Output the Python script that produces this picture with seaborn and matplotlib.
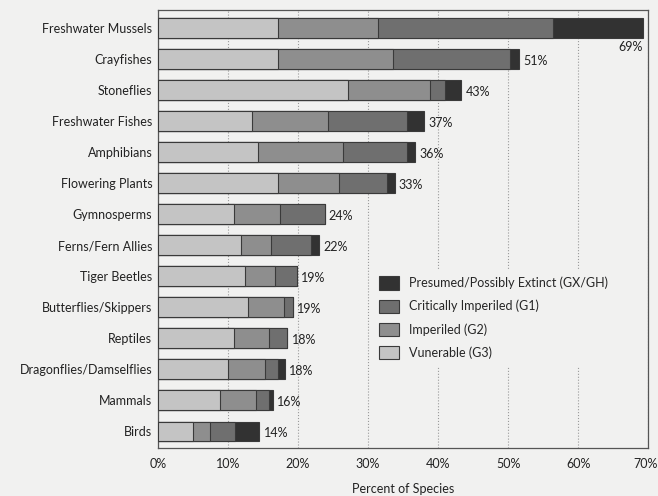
import numpy as np
import pandas as pd
import seaborn as sns
import matplotlib.pyplot as plt
from matplotlib.transforms import offset_copy

# Categorias e valores (% de espécies)
groups = ['Freshwater Mussels', 'Crayfishes', 'Stoneflies', 'Freshwater Fishes',
          'Amphibians', 'Flowering Plants', 'Gymnosperms', 'Ferns/Fern Allies',
          'Tiger Beetles', 'Butterflies/Skippers', 'Reptiles',
          'Dragonflies/Damselflies', 'Mammals', 'Birds']
g3 = [17.1, 17.2, 27.1, 13.4, 14.3, 17.1, 10.8, 11.8, 12.4, 12.9, 10.8, 10.0, 8.8, 5.0]
g2 = [14.3, 16.3, 11.8, 10.9, 12.2, 8.7, 6.7, 4.3, 4.3, 5.1, 5.1, 5.3, 5.2, 2.5]
g1 = [25.0, 16.8, 2.1, 11.3, 9.1, 6.9, 6.3, 5.8, 3.1, 1.3, 2.6, 1.9, 1.8, 3.5]
gx = [12.9, 1.3, 2.3, 2.4, 1.1, 1.1, 0.0, 1.1, 0.0, 0.0, 0.0, 0.9, 0.6, 3.5]
total_labels = ['69%', '51%', '43%', '37%', '36%', '33%', '24%', '22%',
                '19%', '19%', '18%', '18%', '16%', '14%']
x_ticks = [0, 10, 20, 30, 40, 50, 60, 70]

df = pd.DataFrame({'group': groups, 'G3': g3, 'G2': g2, 'G1': g1, 'GX': gx})
df['c_G3'] = df['G3']
df['c_G2'] = df['c_G3'] + df['G2']
df['c_G1'] = df['c_G2'] + df['G1']
df['c_GX'] = df['c_G1'] + df['GX']

bg = '#f1f1f0'
fs = 9
sns.set_theme(style='white')
plt.rcParams['font.family'] = ['Lato', 'DejaVu Sans']

fig = plt.figure(figsize=(6.58, 4.96), dpi=100, facecolor=bg)
ax = fig.add_axes([0.240, 0.097, 0.745, 0.883])
ax.set_facecolor(bg)

# Barras empilhadas: desenhar os acumulados do maior para o menor
layers = [
    ('c_GX', '#323232', 'Presumed/Possibly Extinct (GX/GH)'),
    ('c_G1', '#6f6f6f', 'Critically Imperiled (G1)'),
    ('c_G2', '#8e8e8e', 'Imperiled (G2)'),
    ('c_G3', '#c4c4c4', 'Vunerable (G3)'),
]
for col, color, lab in layers:
    sns.barplot(data=df, x=col, y='group', color=color, width=0.64,
                edgecolor='#3a3a3a', linewidth=0.8, label=lab, ax=ax, zorder=3)

# Rótulos de total
for i, (tot, txt) in enumerate(zip(df['c_GX'], total_labels)):
    if tot > 60:
        ax.text(tot, i + 0.62, txt, ha='right', va='center', fontsize=fs, color='#222222')
    else:
        ax.text(tot + 0.6, i + 0.05, txt, ha='left', va='center', fontsize=fs, color='#222222')

ax.set_xlim(0, 70)
ax.set_ylim(13.53, -0.58)
ax.set_xticks(x_ticks)
ax.set_xticklabels([f'{t}%' for t in x_ticks], fontsize=fs, color='#222222')
ax.tick_params(axis='both', length=0, pad=7)
ax.tick_params(axis='y', labelsize=fs, labelcolor='#222222', pad=4)
ax.set_ylabel('')
ax.set_xlabel('Percent of Species', fontsize=fs, color='#222222', labelpad=10)
ax.xaxis.grid(True, color='#9a9a9a', linestyle=':', linewidth=0.8, zorder=0)
ax.set_axisbelow(True)
for s in ax.spines.values():
    s.set_color('#555555')
    s.set_linewidth(0.9)

# o rótulo de 70% fica colado na borda: puxar um pouco para a esquerda
last = ax.get_xticklabels()[-1]
last.set_transform(offset_copy(last.get_transform(), fig=fig, x=-3, units='dots'))

leg = ax.legend(loc='upper left', bbox_to_anchor=(0.425, 0.42), frameon=True,
                facecolor=bg, edgecolor=bg, framealpha=1, fontsize=fs,
                handlelength=1.6, handleheight=1.25, labelspacing=0.8,
                handletextpad=0.8, borderpad=0.5)
for h in leg.get_patches():
    h.set_edgecolor('#3a3a3a')
leg.set_zorder(5)

fig.savefig('out.png', dpi=100, facecolor=bg)
